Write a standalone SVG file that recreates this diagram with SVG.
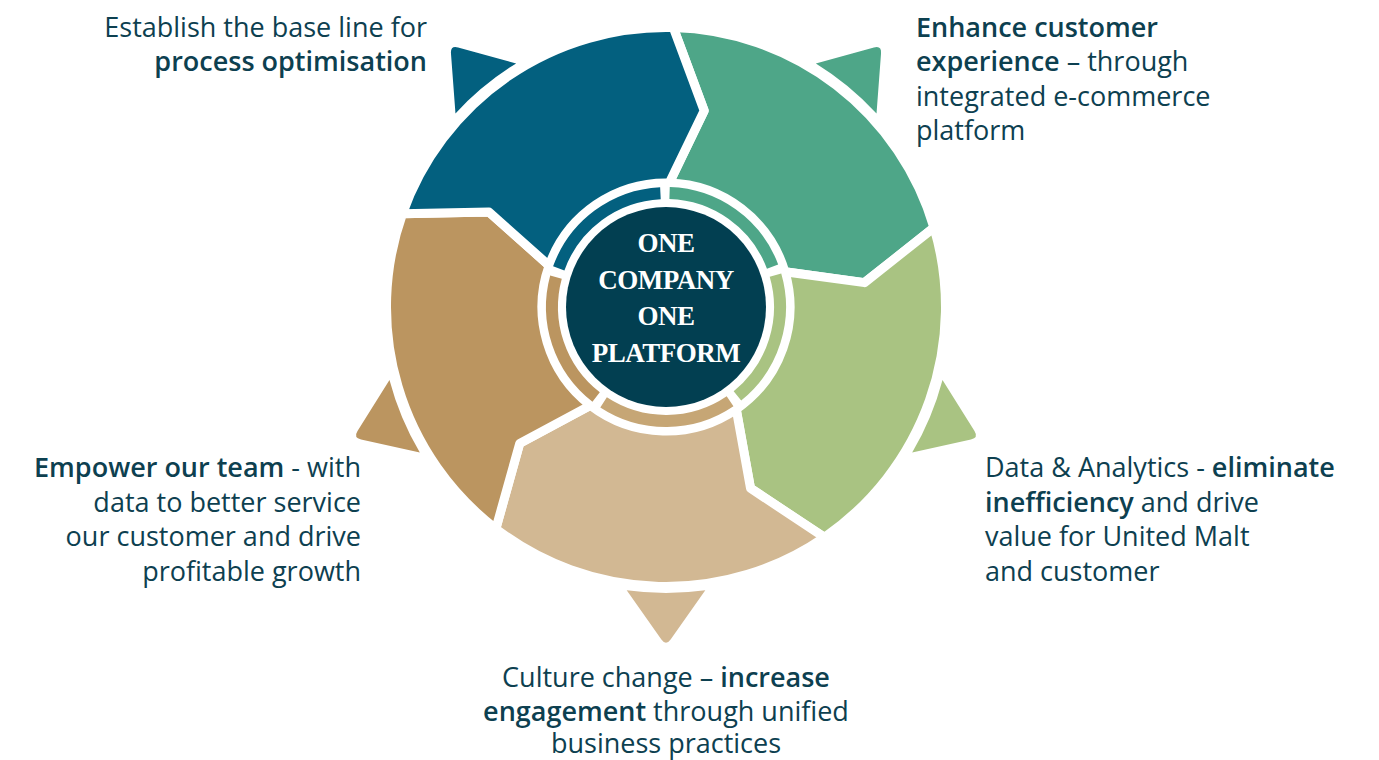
<svg xmlns="http://www.w3.org/2000/svg" xmlns:xlink="http://www.w3.org/1999/xlink" width="1379" height="760" viewBox="0 0 1379 760">
<defs>
<style>
.seg{stroke:#ffffff;stroke-width:9;stroke-linejoin:round}
.ring{fill:none;stroke-width:12}
.lbl{font-family:"Open Sans","Noto Sans",sans-serif;font-size:27px;fill:#0d4050}
.b{font-weight:600}
.ctr{font-family:"Liberation Serif",serif;font-size:27px;font-weight:700;fill:#ffffff;letter-spacing:-0.5px}
</style>
<path id="tri" d="M705.31,590.29 A286,286 0 0 1 626.69,590.29 L661.39,639.46 Q666,646 670.61,639.46 Z"/>
</defs>
<rect width="1379" height="760" fill="#ffffff"/>

<g id="segment-green">
<path class="seg" fill="#4ea688" d="M673.32,27.60 A279.5,279.5 0 0 1 933.99,227.62 L864.51,282.63 L784.89,271.78 A124,124 0 0 0 669.25,183.04 L704.16,110.67 Z"/>
</g>
<g id="segment-lightgreen">
<path class="seg" fill="#a9c382" d="M933.99,227.62 A279.5,279.5 0 0 1 824.31,537.34 L750.52,488.26 L736.23,409.19 A124,124 0 0 0 784.89,271.78 L864.51,282.63 Z"/>
</g>
<g id="segment-tan">
<path class="seg" fill="#d2b893" d="M824.31,537.34 A279.5,279.5 0 0 1 495.85,528.74 L519.73,443.40 L590.51,405.38 A124,124 0 0 0 736.23,409.19 L750.52,488.26 Z"/>
</g>
<g id="segment-brown">
<path class="seg" fill="#bb9560" d="M495.85,528.74 A279.5,279.5 0 0 1 402.53,213.70 L489.08,212.04 L549.11,265.61 A124,124 0 0 0 590.51,405.38 L519.73,443.40 Z"/>
</g>
<g id="segment-blue">
<path class="seg" fill="#03607f" d="M402.53,213.70 A279.5,279.5 0 0 1 673.32,27.60 L704.16,110.67 L669.25,183.04 A124,124 0 0 0 549.11,265.61 L489.08,212.04 Z"/>
</g>

<g id="inner-ring">
<path class="ring" stroke="#4ea688" d="M669.58,193.06 A114,114 0 0 1 772.57,266.52"/>
<path class="ring" stroke="#a9c382" d="M775.47,275.20 A114,114 0 0 1 737.43,395.84"/>
<path class="ring" stroke="#c6a675" d="M730.08,401.29 A114,114 0 0 1 603.58,402.39"/>
<path class="ring" stroke="#bb9560" d="M596.13,397.08 A114,114 0 0 1 555.99,277.11"/>
<path class="ring" stroke="#03607f" d="M558.74,268.38 A114,114 0 0 1 660.43,193.14"/>
</g>

<g id="center">
<circle cx="666" cy="307" r="100" fill="#023f51"/>
<text class="ctr" text-anchor="middle"><tspan x="666" y="252">ONE</tspan><tspan x="666" y="288.5">COMPANY</tspan><tspan x="666" y="325">ONE</tspan><tspan x="666" y="361.5">PLATFORM</tspan></text>
</g>

<g id="connectors">
<use xlink:href="#tri" fill="#03607f" transform="rotate(140.5 666 307)"/>
<use xlink:href="#tri" fill="#4ea688" transform="rotate(-140.5 666 307)"/>
<use xlink:href="#tri" fill="#a9c382" transform="rotate(-67.3 666 307)"/>
<use xlink:href="#tri" fill="#d2b893"/>
<use xlink:href="#tri" fill="#bb9560" transform="rotate(67.3 666 307)"/>
</g>

<g id="label-process">
<text class="lbl" text-anchor="end"><tspan x="427" y="36.5">Establish the base line for</tspan><tspan class="b" x="427" y="71">process optimisation</tspan></text>
</g>
<g id="label-customer">
<text class="lbl"><tspan class="b" x="916" y="36.5">Enhance customer</tspan><tspan x="916" y="71"><tspan class="b">experience</tspan> – through</tspan><tspan x="916" y="105.5">integrated e-commerce</tspan><tspan x="916" y="140">platform</tspan></text>
</g>
<g id="label-data">
<text class="lbl"><tspan x="985" y="477">Data &amp; Analytics - <tspan class="b">eliminate</tspan></tspan><tspan x="985" y="511.5"><tspan class="b">inefficiency</tspan> and drive</tspan><tspan x="985" y="546">value for United Malt</tspan><tspan x="985" y="580.5">and customer</tspan></text>
</g>
<g id="label-culture">
<text class="lbl" text-anchor="middle"><tspan x="666" y="687">Culture change – <tspan class="b">increase</tspan></tspan><tspan x="666" y="720.5"><tspan class="b">engagement</tspan> through unified</tspan><tspan x="666" y="753">business practices</tspan></text>
</g>
<g id="label-team">
<text class="lbl" text-anchor="end"><tspan x="361" y="477"><tspan class="b">Empower our team</tspan> - with</tspan><tspan x="361" y="511.5">data to better service</tspan><tspan x="361" y="546">our customer and drive</tspan><tspan x="361" y="580.5">profitable growth</tspan></text>
</g>
</svg>
